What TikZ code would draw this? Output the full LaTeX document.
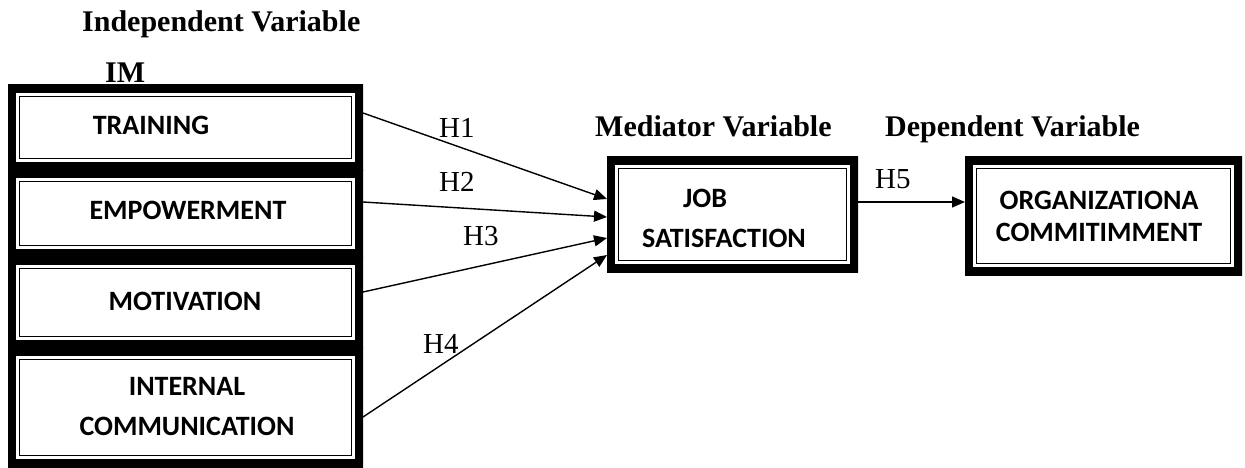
\documentclass[tikz,border=0pt]{standalone}
\usepackage{fontspec}
\setmainfont{Liberation Serif}
\newfontfamily\boxfont{Carlito}
\usetikzlibrary{arrows.meta}
\begin{document}
\begin{tikzpicture}[x=1pt,y=-1pt,
  frame/.style={rectangle, inner sep=0pt, outer sep=0pt, path picture={
     \draw[line width=16pt] (path picture bounding box.south west) rectangle (path picture bounding box.north east);
     \draw[line width=1.5pt] ([xshift=11.5pt,yshift=11.5pt]path picture bounding box.south west) rectangle ([xshift=-11.5pt,yshift=-11.5pt]path picture bounding box.north east);}},
  boxtext/.style={font=\boxfont\bfseries\fontsize{28}{40}\selectfont, inner sep=0pt, align=center},
  hdr/.style={font=\bfseries\fontsize{30}{36}\selectfont, inner sep=0pt, anchor=base west},
  hlab/.style={font=\fontsize{29}{34}\selectfont, inner sep=0pt, anchor=base west},
  arr/.style={line width=1.4pt, -{Triangle[length=13pt,width=11pt]}}]
\useasboundingbox (0,0) rectangle (1245,468);

% boxes
\node[frame, minimum width=355pt, minimum height=85pt] (tr) at (185.5,127.5) {};
\node[frame, minimum width=355pt, minimum height=87pt] (em) at (185.5,213.5) {};
\node[frame, minimum width=355pt, minimum height=91pt] (mo) at (185.5,302.5) {};
\node[frame, minimum width=355pt, minimum height=119pt] (ic) at (185.5,407.5) {};
\node[frame, minimum width=251pt, minimum height=115pt] (job) at (732.5,214.5) {};
\node[frame, minimum width=277pt, minimum height=118pt] (org) at (1103.5,216) {};

% box texts
\node[boxtext] (ttr) at (151,125) {TRAINING};
\node[boxtext] (tem) at (188,210) {EMPOWERMENT};
\node[boxtext] (tmo) at (185,301) {MOTIVATION};
\node[boxtext] (tic) at (187,407) {INTERNAL\\COMMUNICATION};
\node[boxtext] (tjob1) at (705,198) {JOB};
\node[boxtext] (tjob2) at (724,238) {SATISFACTION};
\node[boxtext, font=\boxfont\bfseries\fontsize{28}{32}\selectfont] (torg) at (1099,216) {ORGANIZATIONA\\COMMITIMMENT};

% headers
\node[hdr] (hind) at (82,32) {Independent Variable};
\node[hdr] (him) at (105,83) {IM};
\node[hdr] (hmed) at (595,137) {Mediator Variable};
\node[hdr] (hdep) at (885,137) {Dependent Variable};

% connectors
\draw[arr] ([yshift=14.5pt]tr.east) -- ([yshift=15.5pt]job.west);
\draw[arr] ([yshift=11.5pt]em.east) -- ([yshift=-2.5pt]job.west);
\draw[arr] ([yshift=10.5pt]mo.east) -- ([yshift=-23.5pt]job.west);
\draw[arr] ([yshift=-9.5pt]ic.east) -- ([yshift=-40.5pt]job.west);
\draw[arr] ([yshift=12.5pt]job.east) -- ([yshift=12.5pt]job.east -| org.west);

% hypothesis labels
\node[hlab] (h1) at (439,138) {H1};
\node[hlab] (h2) at (439,191) {H2};
\node[hlab] (h3) at (463,245) {H3};
\node[hlab] (h4) at (423,353) {H4};
\node[hlab] (h5) at (875,189) {H5};
\end{tikzpicture}
\end{document}
